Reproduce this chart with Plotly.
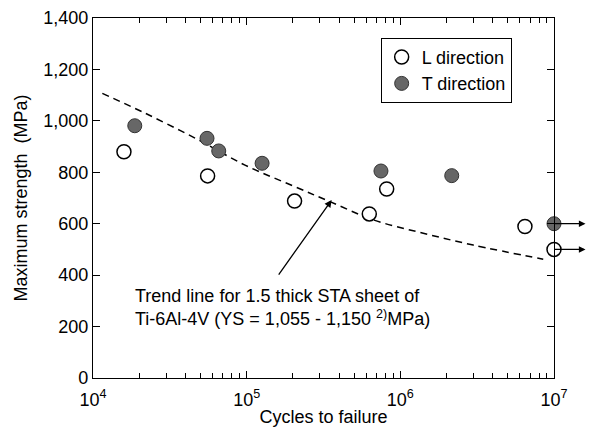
import plotly.graph_objects as go

# ---- data ----
L_cycles = [1.59e4, 5.57e4, 2.05e5, 6.28e5, 8.15e5, 6.47e6, 1.0e7]
L_strength = [880, 786, 688, 638, 735, 589, 500]

T_cycles = [1.87e4, 5.52e4, 6.58e4, 1.26e5, 7.48e5, 2.16e6, 1.0e7]
T_strength = [981, 932, 883, 835, 805, 787, 600]

trend_cycles = [1.15e4, 2.18e4, 4.61e4, 9.75e4, 2.06e5, 3.48e5, 6.67e5, 1.41e6, 2.98e6, 8.51e6]
trend_strength = [1107, 1030, 933, 828, 744, 686, 615, 563, 517, 462]

x_tickvals = [1e4, 1e5, 1e6, 1e7]
x_ticktext = ["10<sup>4</sup>", "10<sup>5</sup>", "10<sup>6</sup>", "10<sup>7</sup>"]
x_minor = [k * 10 ** e for e in (4, 5, 6) for k in range(2, 10)]
y_tickvals = [0, 200, 400, 600, 800, 1000, 1200, 1400]

runout_strength = [600, 500]  # run-outs at 10^7 cycles

FONT = "Liberation Sans, Arial, sans-serif"

fig = go.Figure()

fig.add_trace(go.Scatter(
    x=trend_cycles, y=trend_strength, mode="lines",
    line=dict(color="black", width=1.5, dash="7px,5px", shape="spline"),
    showlegend=False, hoverinfo="skip"))

fig.add_trace(go.Scatter(
    x=L_cycles, y=L_strength, mode="markers", name="L direction",
    marker=dict(symbol="circle", size=14, color="white",
                line=dict(color="black", width=1.5)),
    cliponaxis=False))

fig.add_trace(go.Scatter(
    x=T_cycles, y=T_strength, mode="markers", name="T direction",
    marker=dict(symbol="circle", size=14, color="#676767",
                line=dict(color="#333333", width=1)),
    cliponaxis=False))

annotations = []
# arrow pointing at trend line
annotations.append(dict(
    x=5.553, y=692, xref="x", yref="y", text="", showarrow=True,
    ax=-54, ay=76, arrowhead=2, arrowsize=1.1, arrowwidth=1.3, arrowcolor="black"))
# trend line description
annotations.append(dict(
    x=0.087, y=0.196, xref="paper", yref="paper", xanchor="left", yanchor="middle",
    align="left", showarrow=False,
    text="Trend line for 1.5 thick STA sheet of<br>Ti-6Al-4V (YS = 1,055 - 1,150 <sup>2)</sup>MPa)",
    font=dict(family=FONT, size=18, color="black")))
# run-out arrows (head at the far right end)
for s in runout_strength:
    annotations.append(dict(
        x=7, y=s, xref="x", yref="y", text="", showarrow=True,
        ax=33, ay=0, arrowside="start", startarrowhead=2, startarrowsize=1.1,
        arrowwidth=1.2, arrowcolor="black"))

fig.update_layout(
    width=587, height=419,
    margin=dict(l=85, r=41, t=10, b=49, autoexpand=False),
    paper_bgcolor="white", plot_bgcolor="white",
    font=dict(family=FONT, size=18, color="black"),
    legend=dict(x=0.624, y=0.945, xanchor="left", yanchor="top",
                bordercolor="black", borderwidth=1, bgcolor="white",
                font=dict(family=FONT, size=18, color="black"),
                tracegroupgap=0, itemwidth=30),
    annotations=annotations,
)

fig.update_xaxes(
    type="log", range=[4, 7], automargin=False,
    tickmode="array", tickvals=x_tickvals, ticktext=x_ticktext,
    ticks="inside", ticklen=7, tickwidth=1, tickcolor="black",
    ticklabelstandoff=5,
    minor=dict(ticks="inside", ticklen=5, tickwidth=1, tickcolor="black",
               tickmode="array", tickvals=x_minor, showgrid=False),
    showline=True, linecolor="black", linewidth=1.2, mirror="ticks",
    showgrid=False, zeroline=False,
    tickfont=dict(family=FONT, size=18),
    title=dict(text="Cycles to failure", font=dict(family=FONT, size=18), standoff=3),
)

fig.update_yaxes(
    range=[0, 1400], automargin=False, tickmode="array", tickvals=y_tickvals, tickformat=",",
    ticks="inside", ticklen=7, tickwidth=1, tickcolor="black",
    showline=True, linecolor="black", linewidth=1.2, mirror="ticks",
    showgrid=False, zeroline=False,
    tickfont=dict(family=FONT, size=18),
    title=dict(text="Maximum strength\u00a0 (MPa)", font=dict(family=FONT, size=18), standoff=10),
)

fig.write_html("out.html")
